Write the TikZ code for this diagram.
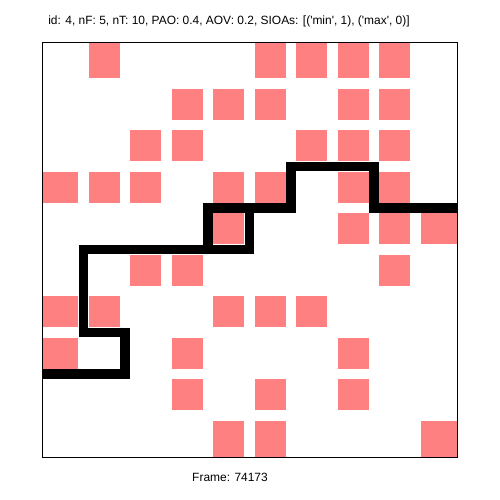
\documentclass[tikz,border=0pt]{standalone}
\usepackage{fontspec}
\newfontfamily\plotfont{Liberation Sans}
\usepackage{xcolor}
\usetikzlibrary{positioning}
\definecolor{obstred}{RGB}{255,128,128}

\begin{document}
\begin{tikzpicture}[
  x=0.83cm, y=-0.83cm,
  every node/.style={font=\plotfont\fontsize{6.8}{8}\selectfont, inner sep=0pt},
  obst/.style={fill=obstred, draw=none},
  trace/.style={line width=0.19cm, line join=miter, line cap=butt},
  frame/.style={draw=black, line width=0.55pt}
]
  \useasboundingbox (-1.012,-1.012) rectangle (11.036,11.036);

  % occupied cells, row / columns
  \foreach \r/\cols in {0/{1,5,6,7,8}, 1/{3,4,5,7,8}, 2/{2,3,6,7,8},
      3/{0,1,2,4,5,7,8}, 4/{4,7,8,9}, 5/{2,3,8}, 6/{0,1,4,5,6},
      7/{0,3,7}, 8/{3,5,7}, 9/{4,5,9}} {
    \foreach \c in \cols {
      \pgfmathsetmacro\xa{\c==0 ? 0 : \c+0.125}
      \pgfmathsetmacro\xb{\c==9 ? 10 : \c+0.875}
      \pgfmathsetmacro\ya{\r==0 ? 0 : \r+0.125}
      \pgfmathsetmacro\yb{\r==9 ? 10 : \r+0.875}
      \fill[obst] (\xa,\ya) rectangle (\xb,\yb);
    }
  }

  % boundary
  \draw[trace] (0,8) -- (2,8) -- (2,7) -- (1,7) -- (1,5) -- (4,5) -- (4,4)
    -- (6,4) -- (6,3) -- (8,3) -- (8,4) -- (10,4);
  \draw[trace] (4,5) -- (5,5) -- (5,4);

  \draw[frame] (0,0) rectangle (10,10);

  \node[anchor=base] (title) at (4.506,-0.41)
    {id: 4, nF: 5, nT: 10, PAO: 0.4, AOV: 0.2, SIOAs: [('min', 1), ('max', 0)]};
  \node[anchor=base] (frameno) at (4.53,10.602) {Frame: 74173};
\end{tikzpicture}
\end{document}
